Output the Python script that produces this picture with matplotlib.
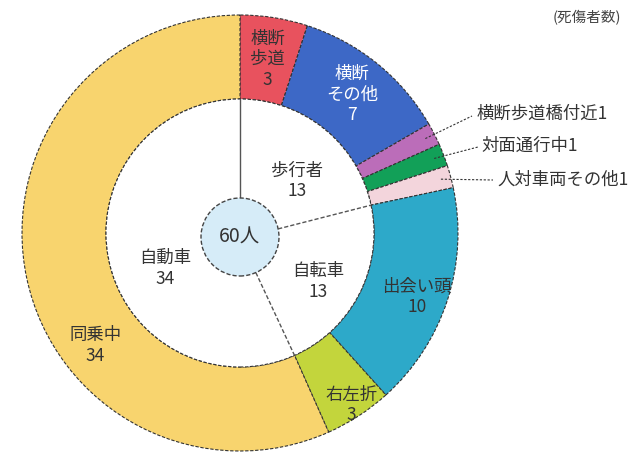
import numpy as np
import matplotlib
matplotlib.use('Agg')
import matplotlib.pyplot as plt
from matplotlib.patches import Circle

plt.rcParams['font.family'] = ['Noto Sans CJK JP', 'DejaVu Sans']

# outer ring (clockwise from top)
outer_labels = ['横断\n歩道\n3', '横断\nその他\n7', '横断歩道橋付近1', '対面通行中1',
                '人対車両その他1', '出会い頭\n10', '右左折\n3', '同乗中\n34']
outer_values = [3, 7, 1, 1, 1, 10, 3, 34]
outer_colors = ['#E8525E', '#3D68C6', '#BB6DB9', '#12A058', '#F3D5DC',
                '#2DA9C9', '#C3D53C', '#F8D46E']

# inner ring
inner_labels = ['歩行者\n13', '自転車\n13', '自動車\n34']
inner_values = [13, 13, 34]
total_label = '60人'

W, H = 632, 457
cx, cy = 240, H - 233
R, r_in = 218, 134

fig = plt.figure(figsize=(6.32, 4.57), dpi=100)
ax = fig.add_axes([0, 0, 1, 1])

wedges, _ = ax.pie(outer_values, colors=outer_colors, startangle=90, counterclock=False,
                   center=(cx, cy), radius=R, frame=True,
                   wedgeprops=dict(width=R - r_in, edgecolor='#333333', linewidth=0.8,
                                   linestyle=(0, (3, 1.5))))
ax.add_patch(Circle((cx, cy), r_in, facecolor='white', edgecolor='#333333',
                    linewidth=0.8, linestyle=(0, (3, 1.5)), zorder=3))

ax.set_xlim(0, W)
ax.set_ylim(0, H)
ax.set_aspect('auto')
ax.axis('off')

def ang(cum):
    # angle (radians, math convention) for cumulative count from top, clockwise
    return np.deg2rad(90 - cum / sum(outer_values) * 360)

fs = 12.5
# outer labels inside the ring: (colour, radius, shift along ring in counts)
cum = np.concatenate([[0], np.cumsum(outer_values)])
inside = {0: ('#333333', 176, 0), 1: ('white', 178, 0), 5: ('#333333', 188, 0.3),
          6: ('#333333', 205, 0), 7: ('#333333', 183, -4.3)}
for i, (col, rad, sh) in inside.items():
    a = ang((cum[i] + cum[i + 1]) / 2 + sh)
    ax.text(cx + rad * np.cos(a), cy + rad * np.sin(a), outer_labels[i],
            ha='center', va='center', fontsize=fs, color=col, linespacing=1.2, zorder=5)

# small slices with leader lines
small_pos = {2: (477, H - 114), 3: (481, H - 146), 4: (497, H - 180)}
small_end = {2: (472, H - 116), 3: (478, H - 147), 4: (493, H - 180)}
for i, (tx, ty) in small_pos.items():
    a = ang((cum[i] + cum[i + 1]) / 2)
    sx, sy = cx + (R - 10) * np.cos(a), cy + (R - 10) * np.sin(a)
    ex, ey = small_end[i]
    ax.plot([sx, ex], [sy, ey], color='#333333', lw=0.8, ls=(0, (2, 1.5)), zorder=5)
    ax.text(tx, ty, outer_labels[i], ha='left', va='center', fontsize=fs,
            color='#333333', zorder=5)

# inner dividers
c_small = (cx, cy - 4)
r_small = 39
icum = np.concatenate([[0], np.cumsum(inner_values)])
for k, c in enumerate(icum[:-1]):
    a = ang(c)
    x0, y0 = c_small[0] + r_small * np.cos(a), c_small[1] + r_small * np.sin(a)
    x1, y1 = cx + r_in * np.cos(a), cy + r_in * np.sin(a)
    ls = '-' if k == 0 else (0, (3, 1.5))
    ax.plot([x0, x1], [y0, y1], color='#555555', lw=1.0, ls=ls, zorder=4)

inner_pos = {0: (77, 1.4), 1: (92, 0.8), 2: (83, -2.2)}
for i, (rad, sh) in inner_pos.items():
    a = ang((icum[i] + icum[i + 1]) / 2 + sh)
    ax.text(cx + rad * np.cos(a), cy + rad * np.sin(a), inner_labels[i],
            ha='center', va='center', fontsize=fs, color='#333333', linespacing=1.2, zorder=5)

ax.add_patch(Circle(c_small, r_small, facecolor='#D6ECF8', edgecolor='#444444',
                    linewidth=1.0, linestyle=(0, (3, 1.5)), zorder=6))
ax.text(c_small[0], c_small[1], total_label, ha='center', va='center', fontsize=14,
        color='#333333', zorder=7)

ax.text(553, H - 18, '(死傷者数)', ha='left', va='center', fontsize=10.5, color='#444444')

fig.savefig('out.png', dpi=100)
